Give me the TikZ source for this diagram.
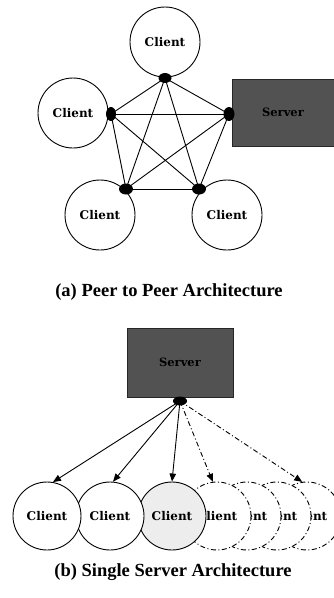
\documentclass[tikz,border=0pt]{standalone}
\usepackage{fontspec}
\setmainfont{Liberation Serif}
\newfontfamily\labelfont{DejaVu Serif}
\newfontfamily\capfont{Liberation Serif}
\usetikzlibrary{arrows.meta,shapes.geometric}

\begin{document}
\begin{tikzpicture}[x=1pt,y=-1pt,
  client/.style={circle,draw=black,line width=0.9pt,fill=white,inner sep=0pt,
    minimum size=70pt,font=\labelfont\bfseries\fontsize{12}{14}\selectfont},
  server/.style={rectangle,draw=black!85,fill=black!68,inner sep=0pt,
    minimum width=106pt,minimum height=69pt,
    font=\labelfont\bfseries\fontsize{11.5}{13}\selectfont},
  blob/.style={ellipse,fill=black,inner sep=0pt,minimum width=13pt,minimum height=10pt},
  link/.style={line width=0.9pt},
  ghost/.style={dash pattern=on 5pt off 2.5pt on 1pt off 2.5pt},
  feed/.style={-{Triangle[length=8pt,width=6.5pt]},line width=0.9pt},
  caption/.style={font=\capfont\bfseries\fontsize{18.5}{20}\selectfont}]
\useasboundingbox (0,0) rectangle (334,598);

% ---------- (a) peer to peer ----------
\node[client] (pt)  at (165,42)  {Client};
\node[client] (pl)  at (73,113)  {Client};
\node[client] (pbl) at (100,215) {Client};
\node[client] (pbr) at (227,215) {Client};
\node[server,minimum width=102pt,minimum height=67pt] (psrv) at (283,112.5) {Server};

\node[blob] (jt)  at (165,78) {};
\node[blob,minimum width=10pt,minimum height=14pt] (jl) at (111,114) {};
\node[blob,minimum width=11pt,minimum height=14pt] (js) at (229,114) {};
\node[blob,minimum width=14pt,minimum height=11pt] (jbl) at (126,189) {};
\node[blob,minimum width=14pt,minimum height=11pt] (jbr) at (199,189) {};

\foreach \a/\b in {jt/jl,jt/js,jt/jbl,jt/jbr,jl/js,jl/jbl,jl/jbr,js/jbl,js/jbr,jbl/jbr}
  \draw[link] (\a.center) -- (\b.center);

\node[caption] (capa) at (169,292) {(a) Peer to Peer Architecture};

% ---------- (b) single server ----------
\node[server] (ssrv) at (180,362.5) {Server};

% clients drawn right to left so each one hides part of its right neighbour
\node[client,ghost,minimum size=68pt] (s7) at (307,516) {Client};
\node[client,ghost,minimum size=68pt] (s6) at (277,516) {Client};
\node[client,ghost,minimum size=68pt] (s5) at (247,516) {Client};
\node[client,ghost,minimum size=68pt] (s4) at (217,516) {Client};
\node[client,fill=black!7,minimum size=68pt] (s3) at (172,516) {Client};
\node[client,minimum size=68pt] (s2) at (110,516) {Client};
\node[client,minimum size=68pt] (s1) at (47,516)  {Client};

\node[blob,minimum width=14pt,minimum height=9pt] (jd) at (180,401) {};

\draw[feed] (jd.center) -- (s1.80);
\draw[feed] (jd.center) -- (s2.85);
\draw[feed] (jd.center) -- (s3.90);
\draw[feed,ghost] (jd.center) -- (s4.97);
\draw[feed,ghost] (jd.center) -- (s7.98);

\node[caption] (capb) at (173,572) {(b) Single Server Architecture};
\end{tikzpicture}
\end{document}
